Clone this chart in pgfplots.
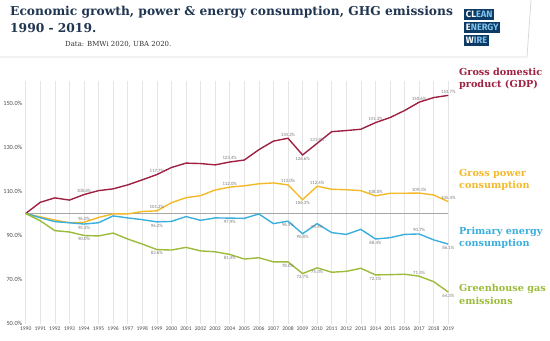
\documentclass[border=0pt]{standalone}
\usepackage{fontspec}
\setmainfont{Carlito}
\newfontfamily\titlefont{DejaVu Serif}
\newfontfamily\logofont{Fira Sans}
\usepackage{pgfplots}
\usepackage{pgfplotstable}
\pgfplotsset{compat=1.18}
\definecolor{gdpc}{HTML}{9E2143}
\definecolor{powc}{HTML}{F4B928}
\definecolor{pric}{HTML}{3AAEDC}
\definecolor{ghgc}{HTML}{9CBB3A}
\definecolor{titc}{HTML}{1F3550}
\definecolor{navy}{HTML}{0D3B66}
\definecolor{lblue}{HTML}{7FC4EC}
\definecolor{labc}{HTML}{7A7A7A}
\pgfplotstableread{
year gdp power primary ghg
1990 100 100 100 100
1991 105.1 98.5 98.1 96.7
1992 107.1 97.0 96.3 92.2
1993 106.1 95.8 95.8 91.6
1994 108.6 96.0 95.2 90.0
1995 110.4 98.2 95.8 89.8
1996 111.2 99.8 98.9 91.1
1997 113.0 99.8 98.0 88.4
1998 115.3 100.9 97.2 86.1
1999 117.7 101.2 96.2 83.6
2000 120.9 104.9 96.4 83.4
2001 122.9 107.2 98.6 84.6
2002 122.7 108.1 96.9 83.0
2003 122.1 110.7 98.0 82.6
2004 123.4 112.0 97.9 81.4
2005 124.3 112.6 97.8 79.3
2006 129.0 113.5 99.8 79.9
2007 132.9 113.9 95.4 78.0
2008 134.2 113.0 96.5 78.0
2009 126.6 106.3 90.8 72.7
2010 131.9 112.4 95.4 75.3
2011 137.2 111.0 91.3 73.3
2012 137.7 110.8 90.5 73.7
2013 138.3 110.4 92.8 75.1
2014 141.3 108.0 88.4 72.1
2015 143.6 109.2 89.0 72.2
2016 146.8 109.2 90.5 72.4
2017 150.6 109.3 90.7 71.5
2018 152.7 108.4 88.0 69.0
2019 153.7 105.4 86.1 64.3
}\data
\begin{document}
\begin{tikzpicture}[
  lab/.style={font=\fontsize{4.8}{5}\selectfont, text=labc, inner sep=1.8pt},
  ser/.style={font=\titlefont\bfseries\fontsize{9.7}{12.7}\selectfont, anchor=base west, align=left, inner sep=0pt},
  logo/.style={anchor=north west, fill=navy, inner xsep=1.8pt, inner ysep=2pt, font=\logofont\bfseries\fontsize{9.3}{9.3}\selectfont}]
\useasboundingbox (0bp,0bp) rectangle (550bp,341bp);
% header
\node[anchor=base west, inner sep=0pt, text=titc, font=\titlefont\bfseries\fontsize{12.3}{14}\selectfont] at (10bp,325bp) {Economic growth, power \& energy consumption, GHG emissions};
\node[anchor=base west, inner sep=0pt, text=titc, font=\titlefont\bfseries\fontsize{12.3}{14}\selectfont] at (10bp,308bp) {1990 - 2019.};
\node[anchor=base west, inner sep=0pt, text=black!80, font=\titlefont\fontsize{7}{8}\selectfont] at (65bp,294bp) {Data: BMWi 2020, UBA 2020.};
\draw[black!15, line width=0.8pt] (0bp,284bp) -- (527bp,284bp) -- (531bp,341bp);
% logo
\node[logo] at (464bp,332bp) {\textcolor{white}{CL}\textcolor{lblue}{EAN}};
\node[logo] at (464bp,319bp) {\textcolor{white}{E}\textcolor{lblue}{NERGY}};
\node[logo] at (464bp,306bp) {\textcolor{white}{W}\textcolor{lblue}{IRE}};
\begin{axis}[
  at={(25.7bp,17.5bp)}, anchor=south west,
  scale only axis, width=422.6bp, height=242bp,
  xmin=1990, xmax=2019, ymin=50, ymax=160,
  axis line style={draw=none},
  major tick length=0pt,
  xtick distance=1,
  ytick={50,70,90,110,130,150},
  xmajorgrids, grid style={black!10, line width=0.5pt},
  /pgf/number format/assume math mode=true,
  xticklabel style={font=\fontsize{5.6}{6}\selectfont, text=black!70, /pgf/number format/1000 sep={}},
  yticklabel style={font=\fontsize{6.3}{7}\selectfont, text=black!70},
  yticklabel={\pgfmathprintnumber[fixed,fixed zerofill,precision=1,assume math mode=true]{\tick}\%},
  clip=false,
]
\addplot[black!35, line width=0.8pt] coordinates {(1990,100) (2019,100)};
\addplot[gdpc, line width=1.4pt] table[x=year,y=gdp] {\data};
\addplot[powc, line width=1.4pt] table[x=year,y=power] {\data};
\addplot[pric, line width=1.4pt] table[x=year,y=primary] {\data};
\addplot[ghgc, line width=1.4pt] table[x=year,y=ghg] {\data};
% GDP labels
\node[lab,above] at (axis cs:1994,108.6) {108.6\%};
\node[lab,above] at (axis cs:1999,117.7) {117.7\%};
\node[lab,above] at (axis cs:2004,123.4) {123.4\%};
\node[lab,above] at (axis cs:2008,134.2) {134.2\%};
\node[lab,below] at (axis cs:2009,126.6) {126.6\%};
\node[lab,above] at (axis cs:2010,131.9) {131.9\%};
\node[lab,above] at (axis cs:2014,141.3) {141.3\%};
\node[lab,above] at (axis cs:2017,150.6) {150.6\%};
\node[lab,above] at (axis cs:2019,153.7) {153.7\%};
% power labels
\node[lab,above] at (axis cs:1994,96.0) {96.0\%};
\node[lab,above] at (axis cs:1999,101.2) {101.2\%};
\node[lab,above] at (axis cs:2004,112.0) {112.0\%};
\node[lab,above] at (axis cs:2008,113.0) {113.0\%};
\node[lab,below] at (axis cs:2009,106.3) {106.3\%};
\node[lab,above] at (axis cs:2010,112.4) {112.4\%};
\node[lab,above] at (axis cs:2014,108.0) {108.0\%};
\node[lab,above] at (axis cs:2017,109.3) {109.3\%};
\node[lab,above] at (axis cs:2019,105.4) {105.4\%};
% primary labels
\node[lab,below] at (axis cs:1994,95.2) {95.2\%};
\node[lab,below] at (axis cs:1999,96.2) {96.2\%};
\node[lab,below] at (axis cs:2004,97.9) {97.9\%};
\node[lab,below] at (axis cs:2008,96.5) {96.5\%};
\node[lab,below] at (axis cs:2009,90.8) {90.8\%};
\node[lab,below] at (axis cs:2010,95.4) {95.4\%};
\node[lab,below] at (axis cs:2014,88.4) {88.4\%};
\node[lab,above] at (axis cs:2017,90.7) {90.7\%};
\node[lab,below] at (axis cs:2019,86.1) {86.1\%};
% ghg labels
\node[lab,below] at (axis cs:1994,90.0) {90.0\%};
\node[lab,below] at (axis cs:1999,83.6) {83.6\%};
\node[lab,below] at (axis cs:2004,81.4) {81.4\%};
\node[lab,below] at (axis cs:2008,78.0) {78.0\%};
\node[lab,below] at (axis cs:2009,72.7) {72.7\%};
\node[lab,below] at (axis cs:2010,75.3) {75.3\%};
\node[lab,below] at (axis cs:2014,72.1) {72.1\%};
\node[lab,above] at (axis cs:2017,71.5) {71.5\%};
\node[lab,below] at (axis cs:2019,64.3) {64.3\%};
\end{axis}
% series names
\node[ser, text=gdpc] at (459bp,253bp) {Gross domestic\\product (GDP)};
\node[ser, text=powc] at (459bp,152bp) {Gross power\\consumption};
\node[ser, text=pric] at (459bp,94bp) {Primary energy\\consumption};
\node[ser, text=ghgc] at (459bp,37bp) {Greenhouse gas\\emissions};
\end{tikzpicture}
\end{document}
